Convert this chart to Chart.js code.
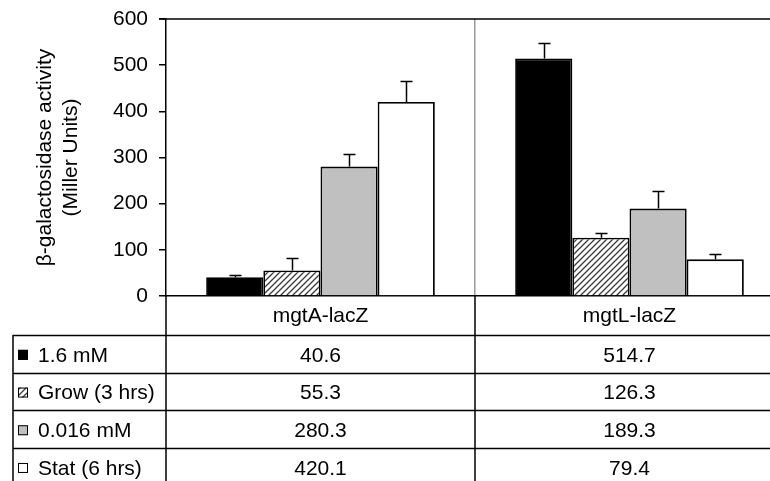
<!DOCTYPE html>
<html>
<head>
<meta charset="utf-8">
<script src="https://cdn.jsdelivr.net/npm/chart.js@4.4.0/dist/chart.umd.min.js"></script>
<style>
  html, body { margin: 0; padding: 0; background: #fff; overflow: hidden; }
  #wrap { width: 790px; height: 481px; }
</style>
</head>
<body>
<div id="wrap"><canvas id="chart" width="790" height="481"></canvas></div>
<script>
// data
const constructs = ['mgtA-lacZ', 'mgtL-lacZ'];
const conditions = ['1.6 mM', 'Grow (3 hrs)', '0.016 mM', 'Stat (6 hrs)'];
const mM16 = [40.6, 514.7];
const grow3h = [55.3, 126.3];
const mM0016 = [280.3, 189.3];
const stat6h = [420.1, 79.4];
// upper error bars
const mM16Err = [4, 33];
const grow3hErr = [27, 11];
const mM0016Err = [27, 39];
const stat6hErr = [45, 11];
const yTicks = [0, 100, 200, 300, 400, 500, 600];

const FONT = { family: '"Liberation Sans", Arial, sans-serif', size: 21 };

const ctx = document.getElementById('chart').getContext('2d');

// diagonal hatch for the "Grow" bars
const tile = document.createElement('canvas');
tile.width = 6; tile.height = 6;
const tg = tile.getContext('2d');
tg.fillStyle = '#fff';
tg.fillRect(0, 0, 6, 6);
tg.strokeStyle = '#3a3a3a';
tg.lineWidth = 1.3;
tg.beginPath();
tg.moveTo(-1, 7); tg.lineTo(7, -1);
tg.moveTo(-1, 1); tg.lineTo(1, -1);
tg.moveTo(5, 7); tg.lineTo(7, 5);
tg.stroke();
const hatch = ctx.createPattern(tile, 'repeat');

const fills = ['#000000', hatch, '#c0c0c0', '#ffffff'];
const values = [mM16, grow3h, mM0016, stat6h];
const errors = [mM16Err, grow3hErr, mM0016Err, stat6hErr];

const datasets = conditions.map((name, i) => ({
  label: name,
  data: values[i],
  err: errors[i],
  backgroundColor: fills[i],
  borderColor: '#000',
  borderWidth: 1.8,
  categoryPercentage: 0.74,
  barPercentage: 1.0
}));

// error bars, upper side only
const errorBars = {
  id: 'errorBars',
  afterDatasetsDraw(chart) {
    const { ctx, scales: { y } } = chart;
    ctx.save();
    ctx.strokeStyle = '#000';
    ctx.lineWidth = 1.5;
    chart.data.datasets.forEach((ds, di) => {
      chart.getDatasetMeta(di).data.forEach((bar, i) => {
        const top = Math.round(y.getPixelForValue(ds.data[i] + ds.err[i])) + 0.5;
        const cx = Math.round(bar.x) + 0.5;
        ctx.beginPath();
        ctx.moveTo(cx, bar.y);
        ctx.lineTo(cx, top);
        ctx.moveTo(cx - 6, top);
        ctx.lineTo(cx + 6, top);
        ctx.stroke();
      });
    });
    ctx.restore();
  }
};

// frame top line + data table under the plot
const HEADER_H = 39;
const ROW_H = 37.7;
const TABLE_LEFT = 13;
const dataTable = {
  id: 'dataTable',
  afterDraw(chart) {
    const { ctx, chartArea, scales: { x } } = chart;
    const W = chart.width, H = chart.height;
    const top = chartArea.bottom;
    const mid = (x.getPixelForValue(0) + x.getPixelForValue(1)) / 2;
    ctx.save();
    ctx.strokeStyle = '#000';
    ctx.lineWidth = 1.5;

    // top frame line
    ctx.beginPath();
    ctx.moveTo(chartArea.left - 7, chartArea.top);
    ctx.lineTo(W, chartArea.top);
    ctx.stroke();

    // vertical lines
    ctx.beginPath();
    ctx.moveTo(chartArea.left, top);
    ctx.lineTo(chartArea.left, H);
    ctx.moveTo(mid, top);
    ctx.lineTo(mid, H);
    ctx.moveTo(TABLE_LEFT, top + HEADER_H);
    ctx.lineTo(TABLE_LEFT, H);
    ctx.stroke();

    // horizontal lines
    ctx.beginPath();
    for (let r = 0; r <= conditions.length; r++) {
      const ly = Math.round(top + HEADER_H + r * ROW_H) + 0.5;
      ctx.moveTo(TABLE_LEFT, ly);
      ctx.lineTo(W, ly);
    }
    ctx.stroke();

    ctx.fillStyle = '#000';
    ctx.font = FONT.size + 'px ' + FONT.family;
    ctx.textBaseline = 'middle';
    ctx.textAlign = 'center';
    constructs.forEach((c, i) => {
      ctx.fillText(c, x.getPixelForValue(i), top + HEADER_H / 2 + 1);
    });

    chart.data.datasets.forEach((ds, r) => {
      const cy = top + HEADER_H + r * ROW_H + ROW_H / 2 + 2;
      // legend key
      ctx.fillStyle = ds.backgroundColor;
      ctx.fillRect(18, cy - 6, 10, 10);
      ctx.lineWidth = 1;
      ctx.strokeRect(18.5, cy - 5.5, 9, 9);
      ctx.fillStyle = '#000';
      ctx.textAlign = 'left';
      ctx.fillText(ds.label, 38, cy);
      ctx.textAlign = 'center';
      ds.data.forEach((v, i) => {
        ctx.fillText(v.toFixed(1), x.getPixelForValue(i), cy);
      });
    });
    ctx.restore();
  }
};

new Chart(ctx, {
  type: 'bar',
  data: { labels: constructs, datasets },
  options: {
    responsive: false,
    animation: false,
    layout: { padding: { top: 19, right: 6, bottom: 0, left: 0 } },
    plugins: {
      legend: { display: false },
      tooltip: { enabled: false }
    },
    scales: {
      x: {
        ticks: { display: false },
        grid: {
          offset: true,
          drawTicks: false,
          color: (c) => c.index === 1 ? '#9a9a9a' : 'rgba(0,0,0,0)',
          lineWidth: 1.5
        },
        border: { display: true, color: '#000', width: 1.5 },
        afterFit: (s) => { s.height = 185; }
      },
      y: {
        min: 0,
        max: 600,
        afterBuildTicks: (s) => { s.ticks = yTicks.map(v => ({ value: v })); },
        ticks: { color: '#000', font: FONT, padding: 11 },
        grid: { drawOnChartArea: false, tickLength: 7, color: '#000', lineWidth: 1.5 },
        border: { color: '#000', width: 1.5 },
        title: {
          display: true,
          text: ['β-galactosidase activity', '(Miller Units)'],
          color: '#000',
          font: { family: FONT.family, size: FONT.size, lineHeight: 1.25 },
          padding: { top: 32, bottom: 0 }
        },
        afterFit: (s) => {
          s.width = 166;
          s.paddingTop = 0;
          s.paddingBottom = 0;
        }
      }
    }
  },
  plugins: [errorBars, dataTable]
});
</script>
</body>
</html>
